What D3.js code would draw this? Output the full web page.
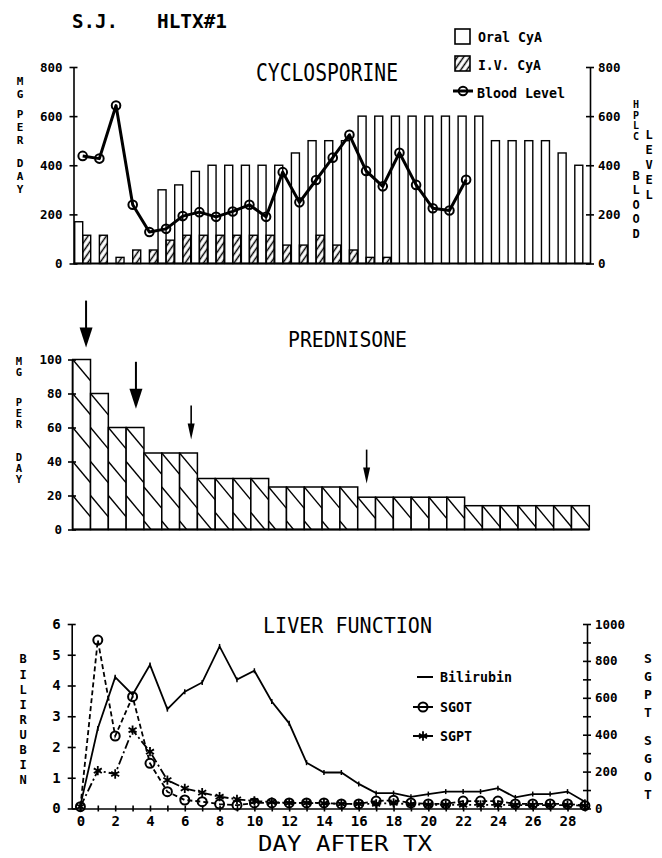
<!DOCTYPE html>
<html>
<head>
<meta charset="utf-8">
<script src="https://cdn.jsdelivr.net/npm/d3@7"></script>
<style>
body { margin: 0; background: #fff; }
text { font-family: "DejaVu Sans Mono", monospace; font-weight: bold; fill: #000; }
.domain, .tick line { stroke: #000; stroke-width: 1.6; }
.vert { writing-mode: vertical-rl; text-orientation: upright; }
</style>
</head>
<body>
<svg id="chart" width="662" height="858"></svg>
<script>
// cyclosporine, mg per day (oral / iv) and HPLC blood level
var oralCyA = [170,0,0,0,0,300,320,375,400,400,400,400,400,450,500,500,500,600,600,600,600,600,600,600,600,500,500,500,500,450,400]
var ivCyA = [115,115,25,55,55,95,115,115,115,115,115,115,75,75,115,75,55,25,25]
var bloodLevel = [438,427,643,239,128,141,193,209,190,212,239,190,372,249,340,431,524,377,314,451,320,225,216,341]
var cyaTicks = [0,200,400,600,800]

// prednisone mg per day, one bar a day
var prednisone = [100,80,60,60,45,45,45,30,30,30,30,25,25,25,25,25,19,19,19,19,19,19,14,14,14,14,14,14,14]
var predTicks = [0,20,40,60,80,100]
var arrowDays = [0.75, 3.55, 6.65, 16.5]
var arrowTips = [107, 71, 53, 27]
var arrowBig = [true, true, false, false]

// liver function
var bilirubin = [0.1,2.6,4.27,3.7,4.67,3.23,3.8,4.1,5.27,4.19,4.48,3.48,2.77,1.49,1.17,1.17,0.8,0.5,0.5,0.38,0.47,0.55,0.55,0.55,0.66,0.36,0.47,0.47,0.55,0.22]
var sgot = [10,913,393,606,245,91,46,37,24,18,30,30,30,30,30,25,25,40,45,30,25,25,40,40,40,25,25,25,25,15]
var sgpt = [10,205,187,425,308,154,109,86,64,50,41,35,30,30,28,25,25,25,30,22,20,20,20,20,20,18,18,18,18,15]
var biliTicks = [0,1,2,3,4,5,6]
var enzTicks = [0,200,400,600,800,1000]
var enzMinor = [100,300,500,700,900]

var svg = d3.select('#chart')
var defs = svg.append('defs')

defs.append('pattern').attr('id', 'ivHatch').attr('patternUnits', 'userSpaceOnUse')
  .attr('width', 5).attr('height', 10).attr('patternTransform', 'rotate(35)')
  .append('line').attr('x1', 2.5).attr('y1', 0).attr('x2', 2.5).attr('y2', 10)
  .attr('stroke', '#000').attr('stroke-width', 1.5)

var text = function(x, y, str, size, len, weight){
  var t = svg.append('text').attr('x', x).attr('y', y).text(str)
    .style('font-size', size + 'px')
  if (len) t.attr('textLength', len).attr('lengthAdjust', 'spacingAndGlyphs')
  if (weight) t.style('font-weight', weight)
  return t
}

// upright letters running down, one text per word
// words = [[word, centre of first letter], ...]
var stack = function(x, words, step, size){
  words.forEach(function(w){
    svg.append('text').attr('class', 'vert')
      .attr('x', x).attr('y', w[1] - step / 2)
      .style('font-size', size + 'px')
      .style('letter-spacing', (step - size) + 'px')
      .text(w[0])
  })
}

// ticks that cross the axis line
var crossTicks = function(g){
  g.selectAll('.tick line').each(function(){
    var l = d3.select(this)
    if (l.attr('x2') != null && +l.attr('x2') != 0) l.attr('x1', -l.attr('x2'))
    if (l.attr('y2') != null && +l.attr('y2') != 0) l.attr('y1', -l.attr('y2'))
  })
}

text(72, 28, 'S.J.', 20, 46)
text(157, 28, 'HLTX#1', 20, 70)

// ---------- CYCLOSPORINE ----------
var xCya = d3.scaleLinear().domain([0, 30]).range([82.7, 582.8])
var yCya = d3.scaleLinear().domain([0, 800]).range([263.5, 67])
var barW = 8

text(256, 81, 'CYCLOSPORINE', 24, 142, 'normal')

svg.append('g').selectAll('rect')
  .data(oralCyA.map(function(v, i){ return [i, v] }).filter(function(d){ return d[1] > 0 }))
  .enter().append('rect')
  .attr('x', function(d){ return xCya(d[0]) - barW })
  .attr('y', function(d){ return yCya(d[1]) })
  .attr('width', barW)
  .attr('height', function(d){ return yCya(0) - yCya(d[1]) })
  .attr('fill', '#fff').attr('stroke', '#000').attr('stroke-width', 1.4)

svg.append('g').selectAll('rect')
  .data(ivCyA.map(function(v, i){ return [i, v] }))
  .enter().append('rect')
  .attr('x', function(d){ return xCya(d[0]) })
  .attr('y', function(d){ return yCya(d[1]) })
  .attr('width', barW)
  .attr('height', function(d){ return yCya(0) - yCya(d[1]) })
  .attr('fill', 'url(#ivHatch)').attr('stroke', '#000').attr('stroke-width', 1.4)

svg.append('line').attr('x1', 73.5).attr('x2', 590)
  .attr('y1', yCya(0)).attr('y2', yCya(0)).attr('stroke', '#000').attr('stroke-width', 2)

var cyaLeft = svg.append('g').attr('transform', 'translate(73.5,0)')
  .call(d3.axisLeft(yCya).tickValues(cyaTicks).tickSize(4).tickSizeOuter(0).tickPadding(7))
crossTicks(cyaLeft)
var cyaRight = svg.append('g').attr('transform', 'translate(590,0)')
  .call(d3.axisRight(yCya).tickValues(cyaTicks).tickSize(4).tickSizeOuter(0).tickPadding(4))
crossTicks(cyaRight)
svg.selectAll('g text').style('font-size', '12.5px')

var bloodLine = d3.line()
  .x(function(d, i){ return xCya(i) })
  .y(function(d){ return yCya(d) })
svg.append('path').datum(bloodLevel).attr('d', bloodLine)
  .attr('fill', 'none').attr('stroke', '#000').attr('stroke-width', 3).attr('stroke-linejoin', 'round')
svg.append('g').selectAll('circle').data(bloodLevel).enter().append('circle')
  .attr('cx', function(d, i){ return xCya(i) }).attr('cy', function(d){ return yCya(d) })
  .attr('r', 4.3).attr('fill', 'none').attr('stroke', '#000').attr('stroke-width', 2)

stack(20, [['MG', 80.5], ['PER', 113], ['DAY', 162]], 11, 11)
stack(636, [['HPLC', 104]], 9.5, 10)
stack(636, [['BLOOD', 175]], 12.5, 12)
stack(649, [['LEVEL', 134]], 13, 12)

// legend
svg.append('rect').attr('x', 455).attr('y', 29).attr('width', 15).attr('height', 15)
  .attr('fill', '#fff').attr('stroke', '#000').attr('stroke-width', 1.6)
svg.append('rect').attr('x', 455).attr('y', 56).attr('width', 15).attr('height', 15)
  .attr('fill', 'url(#ivHatch)').attr('stroke', '#000').attr('stroke-width', 1.6)
svg.append('line').attr('x1', 453).attr('x2', 473).attr('y1', 91).attr('y2', 91)
  .attr('stroke', '#000').attr('stroke-width', 3)
svg.append('circle').attr('cx', 463).attr('cy', 91).attr('r', 4.3)
  .attr('fill', 'none').attr('stroke', '#000').attr('stroke-width', 2)
text(478, 42, 'Oral CyA', 14, 64)
text(478, 70, 'I.V. CyA', 14, 63)
text(477, 98, 'Blood Level', 14, 88)

// ---------- PREDNISONE ----------
var xPred = d3.scaleLinear().domain([0, 29]).range([72.7, 589.3])
var yPred = d3.scaleLinear().domain([0, 100]).range([529.5, 359.5])
var hatchStep = 34, hatchSlope = 1.2

text(288, 347, 'PREDNISONE', 21, 119, 'normal')

var predBars = svg.append('g').selectAll('g')
  .data(prednisone.map(function(v, i){ return [i, v] }))
  .enter().append('g')

predBars.each(function(d){
  var g = d3.select(this)
  var x0 = xPred(d[0]), x1 = xPred(d[0] + 1), top = yPred(d[1]), bot = yPred(0)
  var id = 'predClip' + d[0]
  defs.append('clipPath').attr('id', id).append('rect')
    .attr('x', x0).attr('y', top).attr('width', x1 - x0).attr('height', bot - top)
  g.append('rect').attr('x', x0).attr('y', top).attr('width', x1 - x0).attr('height', bot - top)
    .attr('fill', '#fff')
  var hatch = g.append('g').attr('clip-path', 'url(#' + id + ')')
  for (var y = top; y < bot; y += hatchStep) {
    hatch.append('line').attr('x1', x0).attr('y1', y)
      .attr('x2', x1).attr('y2', y + hatchSlope * (x1 - x0))
      .attr('stroke', '#000').attr('stroke-width', 1.4)
  }
  g.append('rect').attr('x', x0).attr('y', top).attr('width', x1 - x0).attr('height', bot - top)
    .attr('fill', 'none').attr('stroke', '#000').attr('stroke-width', 1.5)
})

svg.append('line').attr('x1', 72).attr('x2', 589.3)
  .attr('y1', yPred(0)).attr('y2', yPred(0)).attr('stroke', '#000').attr('stroke-width', 2)

var predLeft = svg.append('g').attr('transform', 'translate(72,0)')
  .call(d3.axisLeft(yPred).tickValues(predTicks).tickSize(4).tickSizeOuter(0).tickPadding(6))
crossTicks(predLeft)
predLeft.selectAll('text').style('font-size', '12.5px')

stack(19, [['MG', 360], ['PER', 401], ['DAY', 456]], 9.3, 10.5)

arrowDays.forEach(function(day, i){
  var x = xPred(day), tip = yPred(arrowTips[i])
  var len = arrowBig[i] ? 47 : 34, hw = arrowBig[i] ? 6.5 : 3.5, hh = arrowBig[i] ? 20 : 16
  svg.append('line').attr('x1', x).attr('x2', x).attr('y1', tip - len).attr('y2', tip - hh + 2)
    .attr('stroke', '#000').attr('stroke-width', arrowBig[i] ? 2 : 1.6)
  svg.append('path')
    .attr('d', 'M' + (x - hw) + ',' + (tip - hh) + 'L' + (x + hw) + ',' + (tip - hh) + 'L' + x + ',' + tip + 'Z')
    .attr('fill', '#000')
})

// ---------- LIVER FUNCTION ----------
var xLiv = d3.scaleLinear().domain([-0.5, 29.12]).range([71.7, 587])
var yBili = d3.scaleLinear().domain([0, 6]).range([808.5, 624])
var yEnz = d3.scaleLinear().domain([0, 1000]).range([808.5, 624])

text(263, 633, 'LIVER FUNCTION', 22, 169, 'normal')
text(258, 851, 'DAY AFTER TX', 22, 174, 'normal')

var livBottom = svg.append('g').attr('transform', 'translate(0,' + yBili(0) + ')')
  .call(d3.axisBottom(xLiv).tickValues(d3.range(0, 30)).tickSize(3).tickSizeOuter(0).tickPadding(5)
    .tickFormat(function(d){ return d % 2 == 0 ? d : '' }))
crossTicks(livBottom)
livBottom.selectAll('text').style('font-size', '14px')

var livLeft = svg.append('g').attr('transform', 'translate(71.7,0)')
  .call(d3.axisLeft(yBili).tickValues(biliTicks).tickSize(4).tickSizeOuter(0).tickPadding(7)
    .tickFormat(d3.format('d')))
crossTicks(livLeft)
livLeft.selectAll('text').style('font-size', '14px')

var livRight = svg.append('g').attr('transform', 'translate(587,0)')
  .call(d3.axisRight(yEnz).tickValues(enzTicks.concat(enzMinor)).tickSize(4).tickSizeOuter(0).tickPadding(4)
    .tickFormat(function(d){ return enzTicks.indexOf(d) >= 0 ? d : '' }))
crossTicks(livRight)
livRight.selectAll('text').style('font-size', '12.5px')

var biliLine = d3.line().x(function(d, i){ return xLiv(i) }).y(function(d){ return yBili(d) })
var enzLine = d3.line().x(function(d, i){ return xLiv(i) }).y(function(d){ return yEnz(d) })

svg.append('path').datum(sgot).attr('d', enzLine)
  .attr('fill', 'none').attr('stroke', '#000').attr('stroke-width', 1.8).attr('stroke-dasharray', '5,3')
svg.append('path').datum(sgpt).attr('d', enzLine)
  .attr('fill', 'none').attr('stroke', '#000').attr('stroke-width', 1.8).attr('stroke-dasharray', '9,3,2,3')
svg.append('path').datum(bilirubin).attr('d', biliLine)
  .attr('fill', 'none').attr('stroke', '#000').attr('stroke-width', 1.8)

svg.append('g').selectAll('line').data(bilirubin).enter().append('line')
  .attr('x1', function(d, i){ return xLiv(i) }).attr('x2', function(d, i){ return xLiv(i) })
  .attr('y1', function(d){ return yBili(d) - 2.5 }).attr('y2', function(d){ return yBili(d) + 2.5 })
  .attr('stroke', '#000').attr('stroke-width', 1.5)

svg.append('g').selectAll('circle').data(sgot).enter().append('circle')
  .attr('cx', function(d, i){ return xLiv(i) }).attr('cy', function(d){ return yEnz(d) })
  .attr('r', 4.5).attr('fill', 'none').attr('stroke', '#000').attr('stroke-width', 2)

var star = d3.symbol().type(d3.symbolAsterisk).size(60)
svg.append('g').selectAll('path').data(sgpt).enter().append('path')
  .attr('d', star)
  .attr('transform', function(d, i){ return 'translate(' + xLiv(i) + ',' + yEnz(d) + ')' })
  .attr('fill', 'none').attr('stroke', '#000').attr('stroke-width', 1.8)

stack(23, [['BILIRUBIN', 659]], 13.1, 12)
stack(648, [['SGPT', 659], ['SGOT', 741]], 16, 13)

// legend
svg.append('line').attr('x1', 417).attr('x2', 433).attr('y1', 677).attr('y2', 677)
  .attr('stroke', '#000').attr('stroke-width', 2)
svg.append('line').attr('x1', 413).attr('x2', 433).attr('y1', 707).attr('y2', 707)
  .attr('stroke', '#000').attr('stroke-width', 2)
svg.append('circle').attr('cx', 423).attr('cy', 707).attr('r', 4.5)
  .attr('fill', 'none').attr('stroke', '#000').attr('stroke-width', 2)
svg.append('line').attr('x1', 413).attr('x2', 433).attr('y1', 736).attr('y2', 736)
  .attr('stroke', '#000').attr('stroke-width', 2)
svg.append('path').attr('d', star).attr('transform', 'translate(423,736)')
  .attr('fill', 'none').attr('stroke', '#000').attr('stroke-width', 1.8)
text(440, 682, 'Bilirubin', 14, 72)
text(440, 712, 'SGOT', 14, 32)
text(440, 741, 'SGPT', 14, 32)
</script>
</body>
</html>
